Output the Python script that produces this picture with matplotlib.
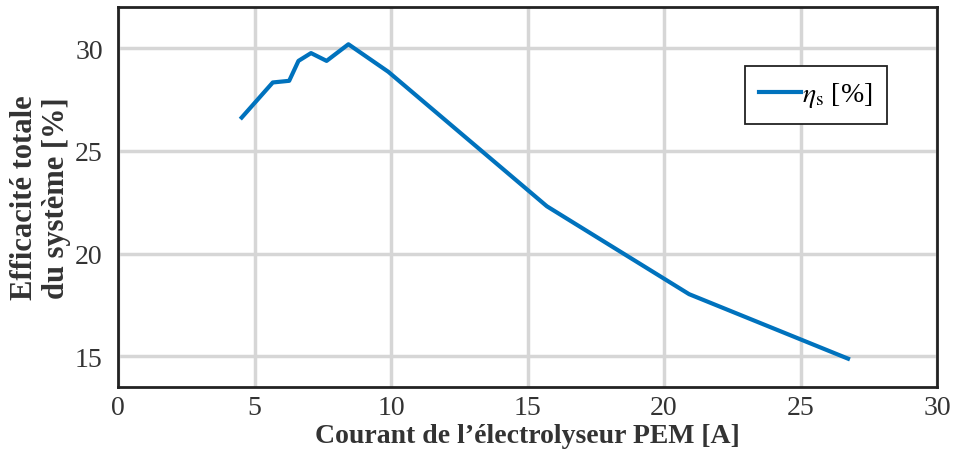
import matplotlib
matplotlib.use("Agg")
import matplotlib.pyplot as plt

# Courant de l'électrolyseur PEM [A] et efficacité totale du système [%]
courant = [4.53, 5.67, 6.27, 6.61, 7.07, 7.64, 8.44, 9.90, 15.71, 20.92, 26.74]
efficacite = [26.62, 28.33, 28.41, 29.38, 29.76, 29.38, 30.19, 28.85, 22.30, 18.02, 14.88]

x_ticks = [0, 5, 10, 15, 20, 25, 30]
y_ticks = [15, 20, 25, 30]

plt.rcParams['font.family'] = ['Liberation Serif', 'DejaVu Serif']
plt.rcParams['mathtext.fontset'] = 'stix'

fig = plt.figure(figsize=(9.54, 4.52), dpi=100)
ax = fig.add_axes([0.1237, 0.1416, 0.8585, 0.8405])

ax.plot(courant, efficacite, color='#0072BD', linewidth=3, label=r'$\eta_{\mathrm{s}}$ [%]')

ax.set_xlim(0, 30)
ax.set_ylim(13.5, 32)
ax.set_xticks(x_ticks)
ax.set_yticks(y_ticks)
ax.grid(True, color='#d6d6d6', linewidth=2.5)
ax.set_axisbelow(True)

for s in ax.spines.values():
    s.set_linewidth(2)
    s.set_color('#222222')
ax.tick_params(direction='in', length=0, labelsize=20, colors='#333333')
ax.tick_params(axis='y', pad=11)
ax.tick_params(axis='x', pad=6)

ax.set_xlabel("Courant de l’électrolyseur PEM [A]", fontsize=20, fontweight='bold',
              color='#333333', labelpad=2)
ax.set_ylabel("Efficacité totale\ndu système [%]", fontsize=22, fontweight='bold',
              color='#333333', labelpad=3, linespacing=1.12)

leg = ax.legend(loc='upper right', bbox_to_anchor=(0.939, 0.845), borderaxespad=0,
                fontsize=20, handlelength=1.5, handletextpad=0.05, borderpad=0.52,
                fancybox=False, framealpha=1)
leg.get_frame().set_edgecolor('#222222')
leg.get_frame().set_linewidth(1.3)

fig.savefig('out.png', dpi=100)
